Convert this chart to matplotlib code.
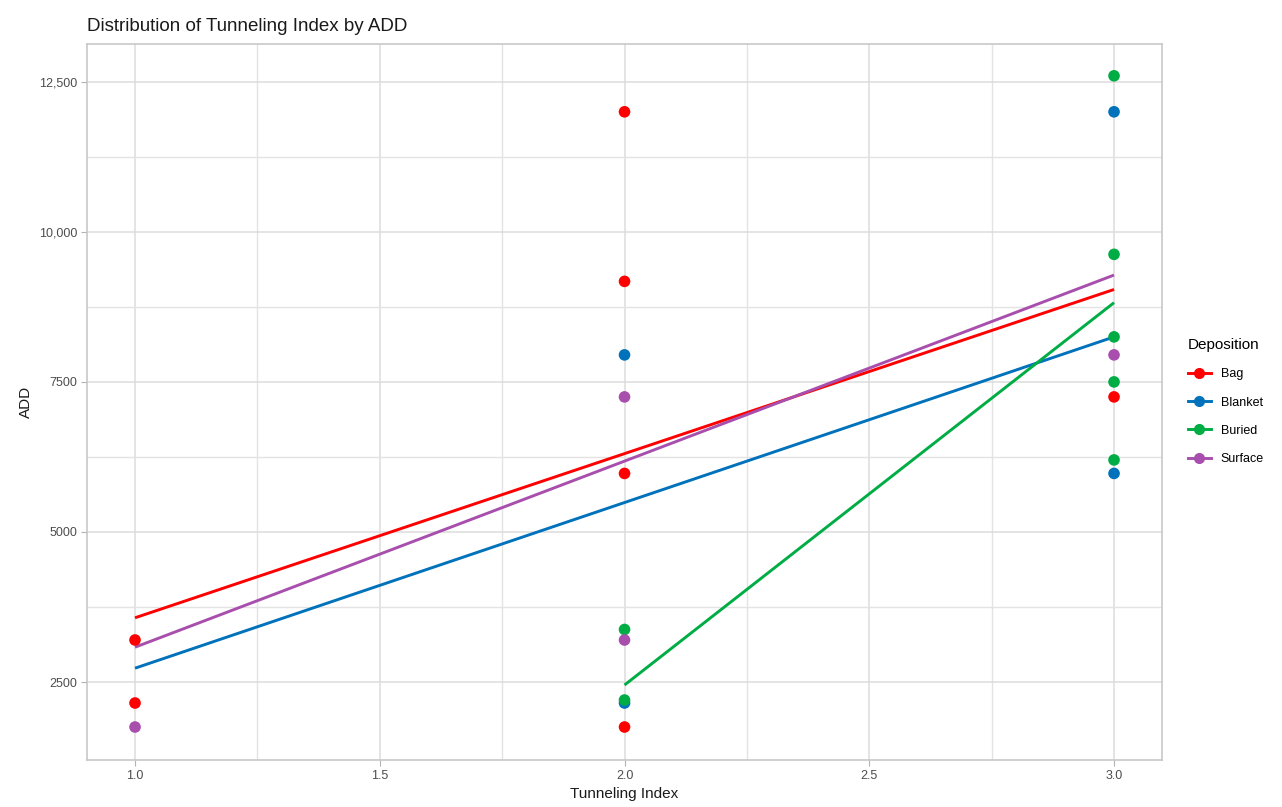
import matplotlib.pyplot as plt
from matplotlib.lines import Line2D
from matplotlib.ticker import FixedLocator

plt.rcParams['font.family'] = ['Liberation Sans', 'DejaVu Sans']

# groups and colours
groups = ['Bag', 'Blanket', 'Buried', 'Surface']
colors = {'Bag': '#FF0000', 'Blanket': '#0072BB', 'Buried': '#00AD45', 'Surface': '#A84FAE'}

# observed points (tunneling index, ADD)
pts_x = {
    'Bag': [1, 1, 2, 2, 2, 2, 3],
    'Blanket': [2, 2, 3, 3],
    'Buried': [2, 2, 3, 3, 3, 3, 3],
    'Surface': [1, 2, 2, 3],
}
pts_y = {
    'Bag': [3200, 2150, 12000, 9175, 5975, 1750, 7250],
    'Blanket': [7950, 2150, 12000, 5975],
    'Buried': [3375, 2200, 12600, 9625, 8250, 7500, 6200],
    'Surface': [1750, 7250, 3200, 7950],
}

# fitted trend line endpoints
fit_x = {'Bag': [1, 3], 'Blanket': [1, 3], 'Buried': [2, 3], 'Surface': [1, 3]}
fit_y = {'Bag': [3570, 9040], 'Blanket': [2730, 8250], 'Buried': [2450, 8820], 'Surface': [3080, 9280]}

xticks = [1.0, 1.5, 2.0, 2.5, 3.0]
yticks = [2500, 5000, 7500, 10000, 12500]
ylabels = ['2500', '5000', '7500', '10,000', '12,500']

fig = plt.figure(figsize=(12.82, 8.07), dpi=100)
ax = fig.add_axes([0.0679, 0.0582, 0.9064 - 0.0679, 0.9455 - 0.0582])

for g in groups:
    ax.plot(fit_x[g], fit_y[g], color=colors[g], lw=2.1, zorder=3, solid_capstyle='butt')
for g in groups:
    ax.scatter(pts_x[g], pts_y[g], s=70, color=colors[g], edgecolors='none', zorder=4)

ax.set_xlim(0.902, 3.098)
ax.set_ylim(1200, 13130)
ax.set_xticks(xticks)
ax.set_xticklabels(['%.1f' % v for v in xticks])
ax.set_yticks(yticks)
ax.set_yticklabels(ylabels)
ax.xaxis.set_minor_locator(FixedLocator([1.25, 1.75, 2.25, 2.75]))
ax.yaxis.set_minor_locator(FixedLocator([3750, 6250, 8750, 11250]))
ax.grid(which='major', color='#DCDCDC', lw=1.1)
ax.grid(which='minor', color='#E3E3E3', lw=1.0)
ax.set_axisbelow(True)
for s in ax.spines.values():
    s.set_color('#C8C8C8')
    s.set_linewidth(1.2)
ax.tick_params(which='major', length=4, color='#B3B3B3', labelcolor='#4D4D4D', labelsize=9, pad=3)
ax.tick_params(which='minor', length=0)

ax.set_title('Distribution of Tunneling Index by ADD', loc='left', fontsize=13.5, color='#1A1A1A', pad=9)
ax.set_xlabel('Tunneling Index', fontsize=11, color='#1A1A1A', labelpad=4)
ax.set_ylabel('ADD', fontsize=11, color='#1A1A1A', labelpad=4)

handles = [Line2D([], [], color=colors[g], lw=2.1, marker='o', markersize=8, markeredgewidth=0) for g in groups]
leg = fig.legend(handles, groups, title='Deposition', loc='upper left', bbox_to_anchor=(0.918, 0.595),
                 frameon=False, fontsize=9, title_fontsize=11, handlelength=1.8, labelspacing=1.3,
                 handletextpad=0.8, alignment='left')

fig.savefig('out.png', dpi=100)
